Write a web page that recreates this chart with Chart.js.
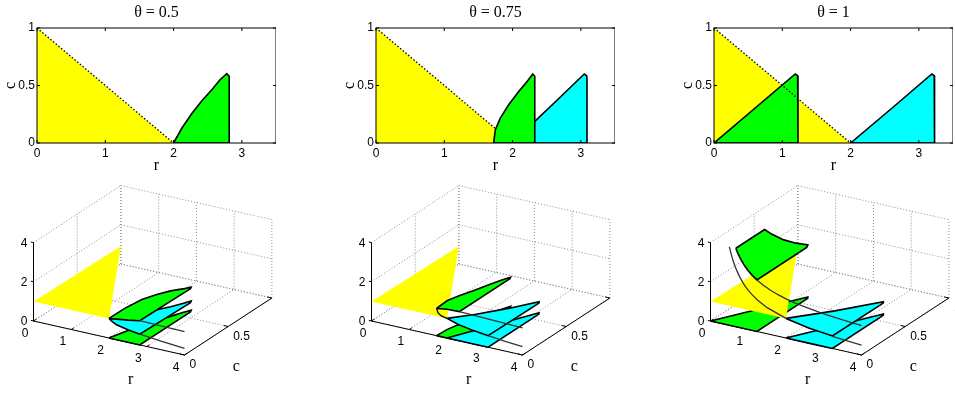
<!DOCTYPE html>
<html>
<head>
<meta charset="utf-8">
<title>theta panels</title>
<script src="https://cdn.jsdelivr.net/npm/chart.js@4"></script>
<style>
  html, body { margin: 0; padding: 0; background: #fff; width: 955px; height: 393px; overflow: hidden; }
  canvas { position: absolute; }
</style>
</head>
<body>
<canvas id="flat05"></canvas>
<canvas id="flat075"></canvas>
<canvas id="flat1"></canvas>
<canvas id="box05"></canvas>
<canvas id="box075"></canvas>
<canvas id="box1"></canvas>
<script>
// tick labels
const rTicksFlat = [0, 1, 2, 3];
const cTicksFlat = [0, 0.5, 1];
const rTicksBox = [0, 1, 2, 3, 4];
const cTicksBox = [0, 0.5, 1];
const zTicksBox = [0, 2, 4];

// yellow region (same for every theta)
const yellowR = [0, 2, 0, 0];
const yellowC = [0, 0, 1, 0];
const yellowZ = [1, 1, 0.9, 1];
const dottedR = [0, 2];
const dottedC = [1, 0];
const dottedR075 = [0, 1.76];
const dottedC075 = [1, 0.12];

// theta = 0.5
const greenR05 = [2, 2.12, 2.27, 2.415, 2.56, 2.68, 2.78, 2.815, 2.815, 2.815, 2.5, 2.2, 2.08, 2];
const greenC05 = [0, 0.128, 0.259, 0.367, 0.463, 0.55, 0.603, 0.58, 0.55, 0, 0, 0, 0, 0];
const greenZ05 = [1, 1.19, 1.33, 1.33, 1.3, 1.2, 1.18, 1.18, 1.18, 1.235, 1.13, 1.05, 1.02, 1];
const cyanZ05 = [1, 0.65, 0.6, 0.55, 0.49, 0.46, 0.47, 0.47, 0.47, 0.55, 0.64, 0.76, 0.88, 1];
const upperR05 = [2.815, 3.4, 4];
const upperZ05 = [1.235, 1.21, 1.19];
const lowerR05 = [2.815, 3.4, 4];
const lowerZ05 = [0.55, 0.43, 0.34];

// theta = 0.75
const greenR075 = [1.723, 1.747, 1.82, 1.943, 2.09, 2.213, 2.295, 2.325, 2.325, 2.325, 2, 1.723];
const greenC075 = [0, 0.114, 0.216, 0.332, 0.448, 0.535, 0.6, 0.58, 0.55, 0, 0, 0];
const greenZ075 = [1.39, 1.47, 1.45, 1.43, 1.46, 1.49, 1.48, 1.48, 1.48, 1.49, 1.47, 1.39];
const cyanR075 = [2, 2.33, 2.7, 3.05, 3.085, 3.09, 3.09, 2.7, 2.3, 2];
const cyanC075 = [0, 0.19, 0.4, 0.6, 0.585, 0.55, 0, 0, 0, 0];
const cyanZ075 = [1, 0.8, 0.65, 0.56, 0.56, 0.56, 0.59, 0.68, 0.82, 1];
const upperR075 = [2.325, 3, 4];
const upperZ075 = [1.49, 1.45, 1.39];
const lowerR075 = [3.09, 3.5, 4];
const lowerZ075 = [0.59, 0.5, 0.43];
const foldR075 = [1.723, 1.76, 1.85, 2];
const foldZ075 = [1.39, 1.19, 1.06, 1];

// theta = 1
const greenR1 = [0, 1.19, 1.225, 1.23, 1.23, 0];
const greenC1 = [0, 0.6, 0.585, 0.55, 0, 0];
const topR1 = [0.67, 0.73, 0.8, 0.9, 1, 1.1, 1.23, 1.23, 1.19, 1.05, 0.9, 0.75, 0.67, 0.67];
const topC1 = [0, 0, 0, 0, 0, 0, 0, 0.57, 0.6, 0.525, 0.45, 0.375, 0.33, 0];
const topZ1 = [4, 3.74, 3.5, 3.22, 3, 2.82, 2.63, 2.63, 2.65, 2.9, 3.22, 3.67, 4, 4];
const cyanR1 = [2, 2.6, 3.19, 3.225, 3.23, 3.23, 2.6, 2];
const cyanC1 = [0, 0.3, 0.6, 0.585, 0.55, 0, 0, 0];
const cyanZ1 = [1, 0.77, 0.62, 0.62, 0.62, 0.64, 0.77, 1];
const upperR1 = [1.23, 1.4, 1.6, 1.8, 2, 2.25, 2.5, 3, 3.5, 4];
const upperZ1 = [2.63, 2.43, 2.25, 2.11, 2, 1.89, 1.8, 1.67, 1.57, 1.5];
const lowerR1a = [0.5, 0.55, 0.6, 0.65, 0.7, 0.77, 0.85, 0.92, 1, 1.1, 1.25, 1.5, 2];
const lowerZ1a = [4, 3.64, 3.33, 3.08, 2.86, 2.6, 2.35, 2.17, 2, 1.82, 1.6, 1.33, 1];
const lowerR1b = [3.23, 3.6, 4];
const lowerZ1b = [0.62, 0.56, 0.5];

const YELLOW = '#ffff00';
const GREEN = '#00ff00';
const CYAN = '#00ffff';
const TICK_FONT = '12px "Liberation Sans", Arial, sans-serif';
const LABEL_FONT = '16px "Liberation Serif", "Times New Roman", serif';

Chart.defaults.animation = false;
Chart.defaults.responsive = false;

function place(id, left, top, w, h) {
    const c = document.getElementById(id);
    c.width = w;
    c.height = h;
    c.style.left = left + 'px';
    c.style.top = top + 'px';
    return c;
}

function shape(points, color, edge) {
    return {
        data: points,
        showLine: true,
        fill: 'shape',
        backgroundColor: color,
        borderColor: edge ? '#000' : color,
        borderWidth: edge ? 1.6 : 0,
        pointRadius: 0
    };
}

function stroke(points, color, width, dash) {
    return {
        data: points,
        showLine: true,
        fill: false,
        borderColor: color,
        borderWidth: width,
        borderDash: dash || [],
        pointRadius: 0
    };
}

// top row: plain r-c plane
function pairs(rs, cs) {
    return rs.map((r, i) => ({ x: r, y: cs[i] }));
}

// frame and inward ticks like the original axes
const framePlugin = {
    id: 'frame',
    afterDraw(chart) {
        const { ctx, chartArea: a, scales } = chart;
        ctx.save();
        ctx.strokeStyle = '#000';
        ctx.lineWidth = 1;
        ctx.strokeRect(a.left, a.top, a.right - a.left, a.bottom - a.top);
        ctx.beginPath();
        rTicksFlat.forEach(v => {
            const x = scales.x.getPixelForValue(v);
            ctx.moveTo(x, a.bottom); ctx.lineTo(x, a.bottom - 3);
            ctx.moveTo(x, a.top); ctx.lineTo(x, a.top + 3);
        });
        cTicksFlat.forEach(v => {
            const y = scales.y.getPixelForValue(v);
            ctx.moveTo(a.left, y); ctx.lineTo(a.left + 3, y);
            ctx.moveTo(a.right, y); ctx.lineTo(a.right - 3, y);
        });
        ctx.stroke();
        ctx.restore();
    }
};

function flatChart(id, left, titleText, datasets) {
    const canvas = place(id, left, 0, 276, 175);
    return new Chart(canvas, {
        type: 'scatter',
        data: { datasets: datasets.slice().reverse() },
        options: {
            layout: { padding: 0 },
            plugins: {
                legend: { display: false },
                tooltip: { enabled: false },
                title: {
                    display: true,
                    text: titleText,
                    fullSize: false,
                    color: '#000',
                    font: { family: '"Liberation Serif", serif', size: 16, weight: 'normal' },
                    padding: { top: 2.8, bottom: 6 }
                }
            },
            scales: {
                x: {
                    type: 'linear', min: 0, max: 3.5,
                    grid: { display: false, drawTicks: false },
                    border: { display: false },
                    afterBuildTicks: s => { s.ticks = rTicksFlat.map(v => ({ value: v })); },
                    afterFit: s => { s.height = 32; },
                    ticks: { color: '#000', font: { family: '"Liberation Sans", Arial', size: 12 }, padding: 3, maxRotation: 0, autoSkip: false },
                    title: { display: true, text: 'r', color: '#000', font: { family: '"Liberation Serif", serif', size: 16 }, padding: { top: 0, bottom: 0 } }
                },
                y: {
                    type: 'linear', min: 0, max: 1,
                    grid: { display: false, drawTicks: false },
                    border: { display: false },
                    afterBuildTicks: s => { s.ticks = cTicksFlat.map(v => ({ value: v })); },
                    afterFit: s => { s.width = 37; },
                    ticks: { color: '#000', font: { family: '"Liberation Sans", Arial', size: 12 }, padding: 2, autoSkip: false, callback: v => String(v) },
                    title: { display: true, text: 'c', color: '#000', font: { family: '"Liberation Serif", serif', size: 16 }, padding: { top: 1, bottom: 0 } }
                }
            }
        },
        plugins: [framePlugin]
    });
}

// bottom row: r, c, z seen from the same view as the original
function project(r, c, z) {
    return { x: 37.75 * r + 87.4 * c, y: -8.5 * r + 57 * c + 19.6 * z };
}

function pts3(rs, cs, zs) {
    return rs.map((r, i) => project(r, cs[i], zs[i]));
}

function floor(rs, cs) {
    return rs.map((r, i) => project(r, cs[i], 0));
}

function onEdge(rs, zs) {
    return rs.map((r, i) => project(r, 0, zs[i]));
}

function cageSets() {
    const sets = [];
    const grid = (a, b) => sets.push(stroke([project(...a), project(...b)], '#8c8c8c', 1, [1, 2]));
    rTicksBox.forEach(r => {
        grid([r, 0, 0], [r, 1, 0]);
        grid([r, 1, 0], [r, 1, 4]);
    });
    cTicksBox.forEach(c => {
        grid([0, c, 0], [4, c, 0]);
        grid([0, c, 0], [0, c, 4]);
    });
    zTicksBox.forEach(z => {
        grid([0, 1, z], [4, 1, z]);
        grid([0, 0, z], [0, 1, z]);
    });
    const solid = (a, b) => sets.push(stroke([project(...a), project(...b)], '#000', 1));
    solid([0, 0, 0], [0, 0, 4]);
    solid([0, 0, 0], [4, 0, 0]);
    solid([4, 0, 0], [4, 1, 0]);
    rTicksBox.forEach(r => solid([r, 0, 0], [r, 0.03, 0]));
    cTicksBox.forEach(c => solid([4, c, 0], [3.88, c, 0]));
    zTicksBox.forEach(z => solid([0, 0, z], [-0.07, 0, z]));
    return sets;
}

const labelPlugin = {
    id: 'boxLabels',
    afterDraw(chart) {
        const { ctx, scales } = chart;
        const at = (r, c, z) => {
            const p = project(r, c, z);
            return [scales.x.getPixelForValue(p.x), scales.y.getPixelForValue(p.y)];
        };
        ctx.save();
        ctx.fillStyle = '#000';
        ctx.textBaseline = 'middle';
        ctx.font = TICK_FONT;
        ctx.textAlign = 'center';
        rTicksBox.forEach(r => {
            const [x, y] = at(r, 0, 0);
            ctx.fillText(String(r), x - 8.5, y + 12.5);
        });
        ctx.textAlign = 'left';
        cTicksBox.forEach(c => {
            const [x, y] = at(4, c, 0);
            ctx.fillText(String(c), x + 5, y + 9.7);
        });
        ctx.textAlign = 'right';
        zTicksBox.forEach(z => {
            const [x, y] = at(0, 0, z);
            ctx.fillText(String(z), x - 6, y + 1);
        });
        ctx.font = LABEL_FONT;
        ctx.textAlign = 'center';
        const [rx, ry] = at(2, 0, 0);
        ctx.fillText('r', rx + 21.7, ry + 42);
        const [cx, cy] = at(4, 0.5, 0);
        ctx.fillText('c', cx + 8, cy + 40);
        ctx.restore();
    }
};

function boxChart(id, left, marks) {
    const canvas = place(id, left, 175, 278, 218);
    return new Chart(canvas, {
        type: 'scatter',
        data: { datasets: cageSets().concat(marks).reverse() },
        options: {
            layout: { padding: 0 },
            plugins: { legend: { display: false }, tooltip: { enabled: false } },
            scales: {
                x: { type: 'linear', display: false, min: -33.5, max: 244.5 },
                y: { type: 'linear', display: false, min: -72, max: 146 }
            }
        },
        plugins: [labelPlugin]
    });
}

document.addEventListener('DOMContentLoaded', () => {
    flatChart('flat05', 0, 'θ = 0.5', [
        shape(pairs(yellowR, yellowC), YELLOW, false),
        shape(pairs(greenR05, greenC05), GREEN, true),
        stroke(pairs(dottedR, dottedC), '#000', 1.3, [1.5, 2])
    ]);
    flatChart('flat075', 339, 'θ = 0.75', [
        shape(pairs(yellowR, yellowC), YELLOW, false),
        shape(pairs(cyanR075, cyanC075), CYAN, true),
        shape(pairs(greenR075, greenC075), GREEN, true),
        stroke(pairs(dottedR075, dottedC075), '#000', 1.3, [1.5, 2])
    ]);
    flatChart('flat1', 677, 'θ = 1', [
        shape(pairs(yellowR, yellowC), YELLOW, false),
        shape(pairs(greenR1, greenC1), GREEN, true),
        shape(pairs(cyanR1, cyanC1), CYAN, true),
        stroke(pairs(dottedR, dottedC), '#000', 1.3, [1.5, 2])
    ]);

    boxChart('box05', 0, [
        shape(pts3(yellowR, yellowC, yellowZ), YELLOW, false),
        shape(floor(greenR05, greenC05), GREEN, true),
        shape(pts3(greenR05, greenC05, cyanZ05), CYAN, true),
        shape(pts3(greenR05, greenC05, greenZ05), GREEN, true),
        stroke(onEdge(upperR05, upperZ05), '#333', 1.3),
        stroke(onEdge(lowerR05, lowerZ05), '#333', 1.3)
    ]);
    boxChart('box075', 338, [
        shape(floor(greenR075, greenC075), GREEN, true),
        shape(floor(cyanR075, cyanC075), CYAN, true),
        shape(pts3(yellowR, yellowC, yellowZ), YELLOW, false),
        shape(pts3(cyanR075, cyanC075, cyanZ075), CYAN, true),
        shape(pts3(greenR075, greenC075, greenZ075), GREEN, true),
        stroke(onEdge(foldR075, foldZ075), '#000', 1.3),
        stroke(onEdge(upperR075, upperZ075), '#333', 1.3),
        stroke(onEdge(lowerR075, lowerZ075), '#333', 1.3)
    ]);
    boxChart('box1', 677, [
        shape(floor(greenR1, greenC1), GREEN, true),
        shape(floor(cyanR1, cyanC1), CYAN, true),
        shape(pts3(yellowR, yellowC, yellowZ), YELLOW, false),
        shape(pts3(cyanR1, cyanC1, cyanZ1), CYAN, true),
        shape(pts3(topR1, topC1, topZ1), GREEN, true),
        stroke(onEdge(upperR1, upperZ1), '#333', 1.3),
        stroke(onEdge(lowerR1a, lowerZ1a), '#333', 1.3),
        stroke(onEdge(lowerR1b, lowerZ1b), '#333', 1.3)
    ]);
});
</script>
</body>
</html>
